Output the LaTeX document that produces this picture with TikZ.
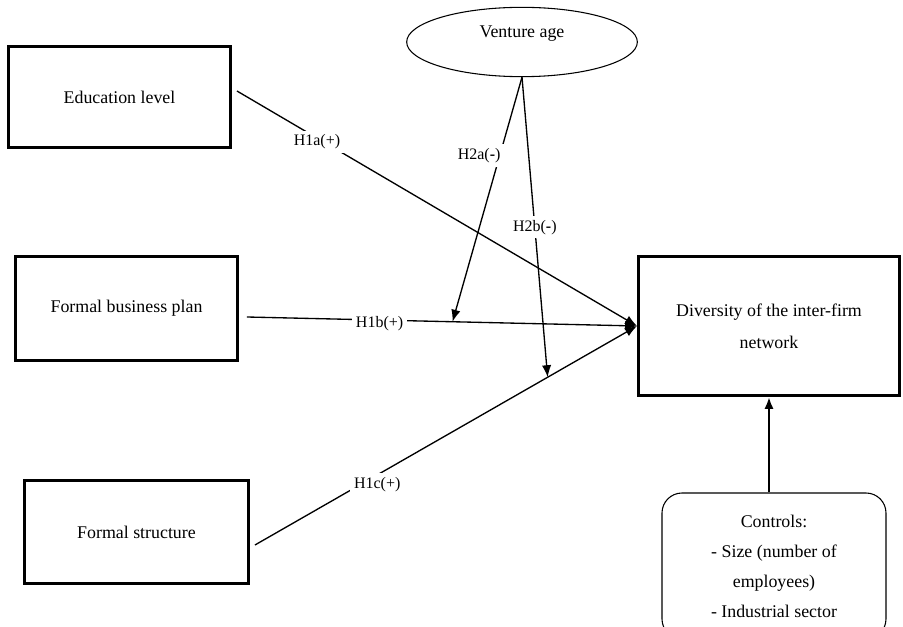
\documentclass[tikz,border=0pt]{standalone}
\usepackage{fontspec}
\setmainfont{Liberation Serif}
\usetikzlibrary{shapes.geometric}
\usetikzlibrary{arrows.meta}
\usetikzlibrary{positioning}

\begin{document}
\begin{tikzpicture}[x=0.75pt,y=-0.75pt]
  \tikzstyle{varbox}=[draw,line width=2.2pt,inner sep=0pt,align=center,font=\fontsize{13.4}{24}\selectfont]
  \tikzstyle{moderator}=[draw,ellipse,line width=0.8pt,inner sep=0pt,text height=10pt,text depth=16pt,font=\fontsize{13.4}{16}\selectfont]
  \tikzstyle{ctrlbox}=[draw,rounded corners=15pt,line width=0.8pt,inner sep=0pt,align=center,font=\fontsize{13.4}{22.5}\selectfont]
  \tikzstyle{arrowline}=[draw,line width=1pt,-{Latex[length=9pt,width=7pt]}]
  \tikzstyle{hyp}=[fill=white,inner sep=3pt,font=\fontsize{12}{14}\selectfont]
  \def\hminus{\textbf{-}}

  \useasboundingbox (0,0) rectangle (903,627);
  \clip (0,0) rectangle (903,627);

  \node [varbox,minimum width=166.5pt,minimum height=75.75pt] (edu) at (119.5,97) {Education level};
  \node [varbox,minimum width=166.5pt,minimum height=78pt] (plan) at (126.5,308.5) {Formal business plan};
  \node [varbox,minimum width=168pt,minimum height=77.25pt] (struct) at (136.5,532) {Formal structure};
  \node [varbox,minimum width=195.75pt,minimum height=104.25pt] (div) at (769,326) {Diversity of the inter-firm\\network};
  \node [moderator,minimum width=173pt,minimum height=52pt] (age) at (522,42) {Venture age};
  \node [ctrlbox,minimum width=168pt,minimum height=109.5pt] (ctrl) at (774,566) {Controls:\\- Size (number of\\employees)\\- Industrial sector};

  \path [arrowline] ([shift={(5,-6)}]edu.east) -- node[hyp,pos=0.2,yshift=-3pt] {H1a(+)} (div.west);
  \path [arrowline] ([shift={(8,8.5)}]plan.east) -- node[hyp,pos=0.34,yshift=-3pt] {H1b(+)} coordinate[pos=0.527] (h2a-end) (div.west);
  \path [arrowline] ([shift={(5,13)}]struct.east) -- node[hyp,pos=0.32,yshift=-7pt] {H1c(+)} coordinate[pos=0.766] (h2b-end) (div.west);

  \path [arrowline] (age.south) -- node[hyp,pos=0.32,anchor=east,xshift=4pt] {H2a(\hminus)} (h2a-end);
  \path [arrowline] (age.south) -- node[hyp,pos=0.5] {H2b(\hminus)} (h2b-end);

  \path [arrowline,line width=2pt] (div.south |- ctrl.north) -- (div.south);
\end{tikzpicture}
\end{document}
